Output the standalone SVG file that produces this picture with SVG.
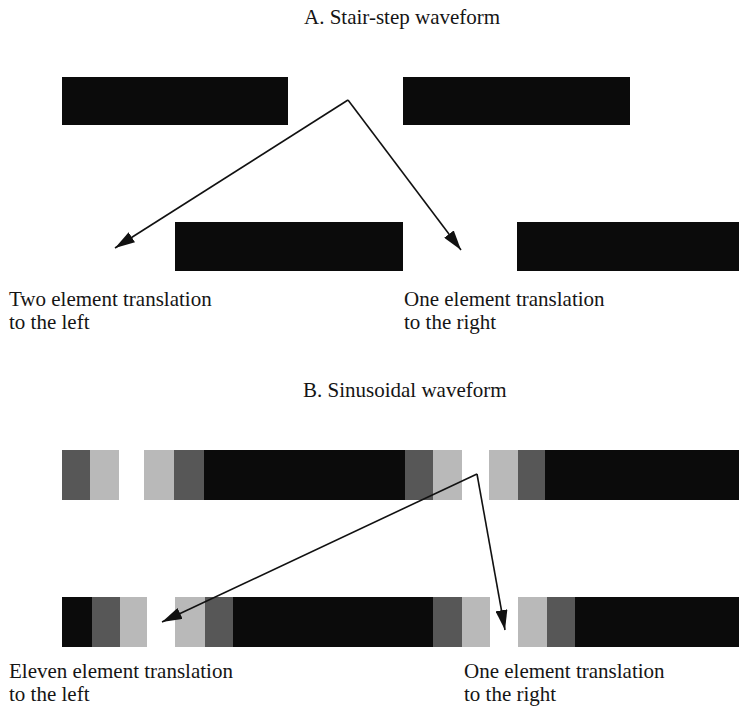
<svg xmlns="http://www.w3.org/2000/svg" width="739" height="709" viewBox="0 0 739 709">
<defs>
<style>
.t{font-family:"Liberation Serif","Times New Roman",serif;font-size:21px;fill:#151515}
.blk{fill:#0b0b0b}
.dk{fill:#575757}
.lt{fill:#b9b9b9}
.arr{stroke:#111;stroke-width:1.6;fill:none;marker-end:url(#ah)}
</style>
<marker id="ah" markerUnits="userSpaceOnUse" markerWidth="22" markerHeight="12" refX="20" refY="6" orient="auto">
<path d="M0,0 L20,6 L0,12 z" fill="#111"/>
</marker>
</defs>
<rect width="739" height="709" fill="#fff"/>

<g id="titleA"><text class="t" x="304" y="24">A. Stair-step waveform</text></g>

<g id="stairTop">
<rect class="blk" x="62" y="77" width="226" height="48"/>
<rect class="blk" x="403" y="77" width="227" height="48"/>
</g>
<g id="stairBottom">
<rect class="blk" x="175" y="222" width="228" height="49"/>
<rect class="blk" x="517" y="222" width="222" height="49"/>
</g>

<g id="labelA1"><text class="t" x="9" y="306">Two element translation</text><text class="t" x="9" y="329">to the left</text></g>
<g id="labelA2"><text class="t" x="404" y="306">One element translation</text><text class="t" x="404" y="329">to the right</text></g>

<g id="titleB"><text class="t" x="303" y="397">B. Sinusoidal waveform</text></g>

<g id="sineTop">
<rect class="dk" x="62" y="450" width="28" height="50"/>
<rect class="lt" x="90" y="450" width="29" height="50"/>
<rect class="lt" x="144" y="450" width="30" height="50"/>
<rect class="dk" x="174" y="450" width="30" height="50"/>
<rect class="blk" x="204" y="450" width="201" height="50"/>
<rect class="dk" x="405" y="450" width="28" height="50"/>
<rect class="lt" x="433" y="450" width="29" height="50"/>
<rect class="lt" x="489" y="450" width="29" height="50"/>
<rect class="dk" x="518" y="450" width="27" height="50"/>
<rect class="blk" x="545" y="450" width="194" height="50"/>
</g>
<g id="sineBottom">
<rect class="blk" x="62" y="597" width="30" height="50"/>
<rect class="dk" x="92" y="597" width="28" height="50"/>
<rect class="lt" x="120" y="597" width="27" height="50"/>
<rect class="lt" x="175" y="597" width="30" height="50"/>
<rect class="dk" x="205" y="597" width="28" height="50"/>
<rect class="blk" x="233" y="597" width="200" height="50"/>
<rect class="dk" x="433" y="597" width="29" height="50"/>
<rect class="lt" x="462" y="597" width="28" height="50"/>
<rect class="lt" x="518" y="597" width="29" height="50"/>
<rect class="dk" x="547" y="597" width="28" height="50"/>
<rect class="blk" x="575" y="597" width="164" height="50"/>
</g>

<g id="labelB1"><text class="t" x="9" y="678">Eleven element translation</text><text class="t" x="9" y="701">to the left</text></g>
<g id="labelB2"><text class="t" x="464" y="678">One element translation</text><text class="t" x="464" y="701">to the right</text></g>

<g id="connectors">
<line class="arr" x1="348" y1="100" x2="115" y2="248"/>
<line class="arr" x1="348" y1="100" x2="461" y2="250"/>
<line class="arr" x1="477" y1="474" x2="162" y2="622"/>
<line class="arr" x1="477" y1="474" x2="505" y2="630"/>
</g>
</svg>
